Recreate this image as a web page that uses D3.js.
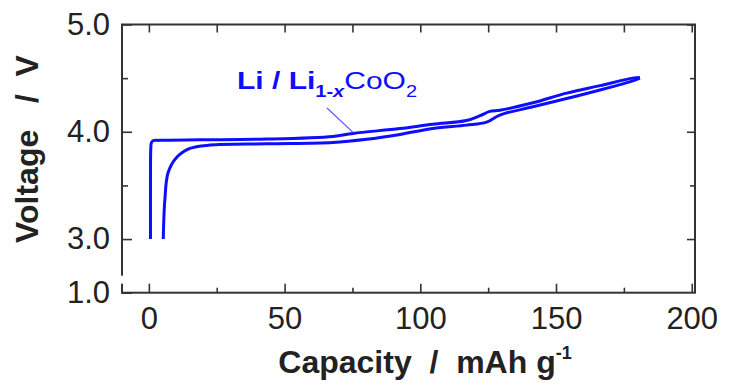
<!DOCTYPE html>
<html>
<head>
<meta charset="utf-8">
<script src="https://cdn.jsdelivr.net/npm/d3@7"></script>
<style>
  body { margin: 0; background: #fff; }
  text { font-family: "Liberation Sans", Arial, sans-serif; }
</style>
</head>
<body>
<div id="chart"></div>
<script>
// charge curve (capacity mAh/g, voltage V)
const chargeCap = [0.6, 0.6, 0.7, 0.9, 1.5, 4, 18.8, 43.4, 67.8, 75.2, 92.5, 104.6, 117, 122, 125.6, 129.3, 141.5, 153.9, 166.2, 178.3, 180.9];
const chargeV   = [3.0, 3.5, 3.84, 3.895, 3.916, 3.92, 3.925, 3.932, 3.957, 3.985, 4.03, 4.07, 4.105, 4.15, 4.19, 4.20, 4.27, 4.36, 4.43, 4.50, 4.505];
// discharge curve
const dischargeCap = [180.9, 178.3, 166.2, 153.9, 141.5, 129.3, 124.4, 117, 104.6, 92.5, 80.2, 67.8, 43.4, 22.5, 15.1, 10.2, 7.1, 5.9, 5.3];
const dischargeV   = [4.50, 4.475, 4.39, 4.31, 4.233, 4.156, 4.09, 4.062, 4.03, 3.975, 3.93, 3.90, 3.888, 3.876, 3.845, 3.76, 3.62, 3.37, 3.0];

const xMajor = [0, 50, 100, 150, 200];
const xMinor = [25, 75, 125, 175];
// broken axis: the bottom of the frame is labelled 1.0
const yTicks = [2.5, 3, 4, 5];
const yTickLabels = ["1.0", "3.0", "4.0", "5.0"];
const yMinor = [3.5, 4.5];

const width = 730, height = 389;
const margin = {top: 24.5, right: 35, bottom: 96.3, left: 122};
const blue = "#0d0dff";

const xscale = d3.scaleLinear()
  .domain([-9.9, 201.2])
  .range([margin.left, width - margin.right]);

const yscale = d3.scaleLinear()
  .domain([2.5, 5.0])
  .range([height - margin.bottom, margin.top]);

const svg = d3.select("#chart").append("svg")
  .attr("width", width)
  .attr("height", height);

// ============================
// Axes
// ============================
const styleAxis = g => {
  g.select(".domain").remove();
  g.selectAll("line").attr("stroke", "#333").attr("stroke-width", 1.6);
  g.selectAll("text").attr("fill", "#222").attr("font-size", 31);
};

// bottom
svg.append("g")
  .attr("transform", `translate(0,${yscale(2.5)})`)
  .call(d3.axisBottom(xscale).tickValues(xMajor).tickSize(-9).tickPadding(14).tickFormat(d3.format("d")))
  .call(styleAxis);
svg.append("g")
  .attr("transform", `translate(0,${yscale(2.5)})`)
  .call(d3.axisBottom(xscale).tickValues(xMinor).tickSize(-5).tickFormat(""))
  .call(styleAxis);

// top
svg.append("g")
  .attr("transform", `translate(0,${yscale(5)})`)
  .call(d3.axisTop(xscale).tickValues(xMajor.concat(xMinor)).tickSize(-8).tickFormat(""))
  .call(styleAxis);

// left
svg.append("g")
  .attr("transform", `translate(${xscale(-9.9)},0)`)
  .call(d3.axisLeft(yscale).tickValues(yTicks).tickSize(-10).tickPadding(12)
    .tickFormat((d, i) => yTickLabels[i]))
  .call(styleAxis);
svg.append("g")
  .attr("transform", `translate(${xscale(-9.9)},0)`)
  .call(d3.axisLeft(yscale).tickValues(yMinor).tickSize(-6).tickFormat(""))
  .call(styleAxis);

// right
svg.append("g")
  .attr("transform", `translate(${xscale(201.2)},0)`)
  .call(d3.axisRight(yscale).tickValues(yTicks.slice(1)).tickSize(-8).tickFormat(""))
  .call(styleAxis);
svg.append("g")
  .attr("transform", `translate(${xscale(201.2)},0)`)
  .call(d3.axisRight(yscale).tickValues(yMinor).tickSize(-5).tickFormat(""))
  .call(styleAxis);

// frame
const x0 = xscale(-9.9), x1 = xscale(201.2), y0 = yscale(2.5), y1 = yscale(5);
svg.append("rect")
  .attr("x", x0).attr("y", y1)
  .attr("width", x1 - x0).attr("height", y0 - y1)
  .attr("fill", "none")
  .attr("stroke", "#333")
  .attr("stroke-width", 2);

// axis break on the left spine
svg.append("rect")
  .attr("x", x0 - 3).attr("y", y0 - 17)
  .attr("width", 8).attr("height", 8)
  .attr("fill", "#fff");

// ============================
// Curves
// ============================
const line = d3.line()
  .curve(d3.curveCatmullRom.alpha(0.5))
  .x(d => xscale(d[0]))
  .y(d => yscale(d[1]));

const charge = chargeCap.map((c, i) => [c, chargeV[i]]);
const discharge = dischargeCap.map((c, i) => [c, dischargeV[i]]);

svg.append("g")
  .attr("fill", "none")
  .attr("stroke", blue)
  .attr("stroke-width", 3)
  .attr("stroke-linejoin", "round")
  .selectAll("path")
  .data([charge, discharge])
  .join("path")
  .attr("d", line);

// ============================
// Annotation
// ============================
svg.append("line")
  .attr("x1", 327).attr("y1", 108)
  .attr("x2", xscale(75.2)).attr("y2", yscale(3.985) - 1)
  .attr("stroke", "#5a5aff")
  .attr("stroke-width", 1.3);

// the label in the picture is wider than the font, so stretch it
const label = svg.append("text")
  .attr("transform", "translate(237,89) scale(1.25,1)")
  .attr("fill", blue)
  .attr("font-size", 24);
label.append("tspan").attr("font-weight", "bold").text("Li / Li");
label.append("tspan").attr("dy", 8).attr("font-size", 16).attr("font-weight", "bold").text("1-");
label.append("tspan").attr("font-size", 16).attr("font-weight", "bold").attr("font-style", "italic").text("x");
label.append("tspan").attr("dy", -8).text("CoO");
label.append("tspan").attr("dy", 8).attr("font-size", 16).text("2");

// ============================
// Axis titles
// ============================
const xTitle = svg.append("text")
  .attr("x", 425).attr("y", 373)
  .attr("text-anchor", "middle")
  .attr("font-weight", "bold")
  .attr("font-size", 32)
  .attr("fill", "#222");
xTitle.append("tspan").text("Capacity\u00a0\u00a0/\u00a0\u00a0mAh g");
xTitle.append("tspan").attr("dy", -14).attr("font-size", 18).text("-1");

svg.append("text")
  .attr("transform", "translate(38,149) rotate(-90)")
  .attr("text-anchor", "middle")
  .attr("font-weight", "bold")
  .attr("font-size", 32)
  .attr("fill", "#222")
  .text("Voltage\u00a0\u00a0\u00a0/\u00a0\u00a0V");
</script>
</body>
</html>
